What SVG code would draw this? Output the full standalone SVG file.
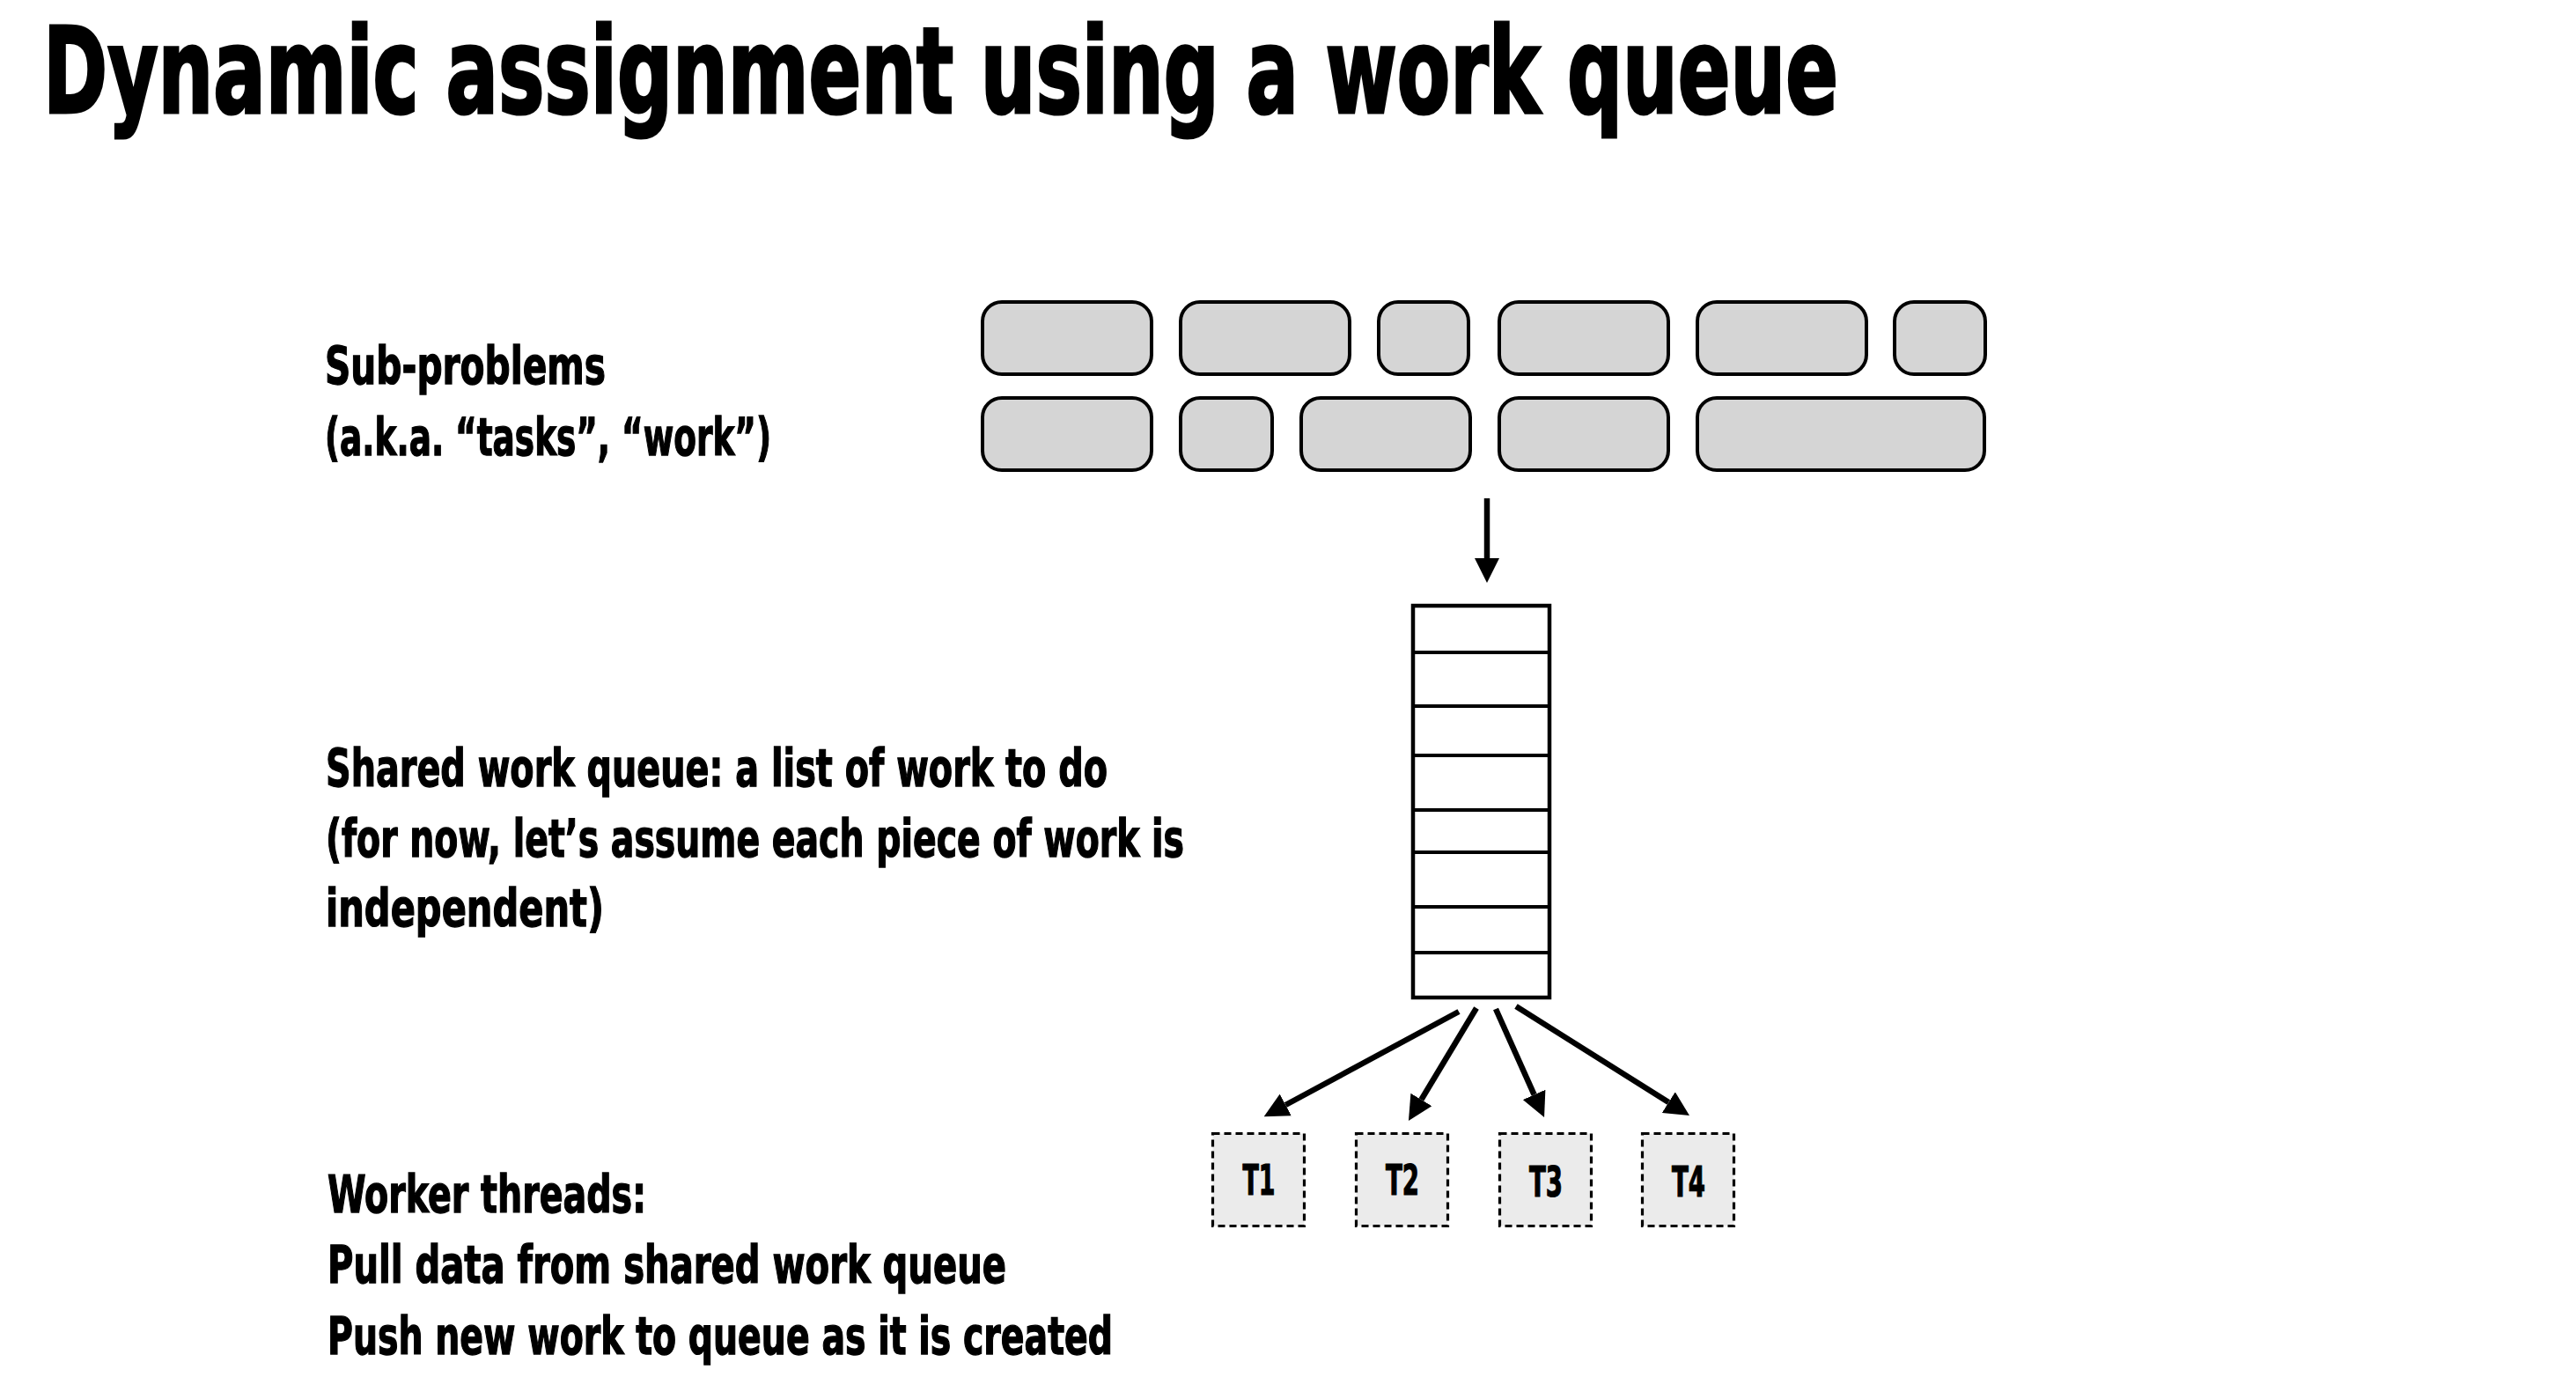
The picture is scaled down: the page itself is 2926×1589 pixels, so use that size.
<svg xmlns="http://www.w3.org/2000/svg" width="2926" height="1589" viewBox="0 0 2926 1589">
<style>
text{font-family:"Liberation Sans Narrow","DejaVu Sans Condensed","Liberation Sans",sans-serif;font-weight:bold;fill:#000;stroke:#000}
.title{font-size:136px;stroke-width:3.2}
.body{font-size:58px;stroke-width:1.3}
.tl{font-size:48px;stroke-width:1.2}
.task{fill:#d5d5d5;stroke:#000;stroke-width:4}
.q{fill:#fff;stroke:#000;stroke-width:4.5}
.qd{stroke:#000;stroke-width:4}
.thr{fill:#ebebeb;stroke:#000;stroke-width:3.2;stroke-dasharray:8 5}
.conn{stroke:#000;stroke-width:6.5;fill:none}
</style>
<defs>
<marker id="ah" markerUnits="userSpaceOnUse" markerWidth="28" markerHeight="28" refX="0" refY="14" orient="auto" viewBox="0 0 28 28">
<path d="M0,0 L28,14 L0,28 z" fill="#000"/>
</marker>
</defs>
<rect width="2926" height="1589" fill="#fff"/>
<text class="title" x="49" y="128" textLength="2039" lengthAdjust="spacingAndGlyphs">Dynamic assignment using a work queue</text>
<g id="label-subproblems">
<text class="body" x="369" y="436" textLength="319" lengthAdjust="spacingAndGlyphs">Sub-problems</text>
<text class="body" x="369" y="517" textLength="507" lengthAdjust="spacingAndGlyphs">(a.k.a. “tasks”, “work”)</text>
</g>
<g id="label-queue">
<text class="body" x="370" y="893" textLength="888" lengthAdjust="spacingAndGlyphs">Shared work queue: a list of work to do</text>
<text class="body" x="370" y="973" textLength="975" lengthAdjust="spacingAndGlyphs">(for now, let’s assume each piece of work is</text>
<text class="body" x="370" y="1052" textLength="316" lengthAdjust="spacingAndGlyphs">independent)</text>
</g>
<g id="label-workers">
<text class="body" x="372" y="1377" textLength="362" lengthAdjust="spacingAndGlyphs">Worker threads:</text>
<text class="body" x="372" y="1457" textLength="771" lengthAdjust="spacingAndGlyphs">Pull data from shared work queue</text>
<text class="body" x="372" y="1538" textLength="892" lengthAdjust="spacingAndGlyphs">Push new work to queue as it is created</text>
</g>
<g id="subproblems">
<rect class="task" x="1116" y="343" width="192" height="82" rx="22"/>
<rect class="task" x="1341" y="343" width="192" height="82" rx="22"/>
<rect class="task" x="1566" y="343" width="102" height="82" rx="22"/>
<rect class="task" x="1703" y="343" width="192" height="82" rx="22"/>
<rect class="task" x="1928" y="343" width="192" height="82" rx="22"/>
<rect class="task" x="2152" y="343" width="103" height="82" rx="22"/>
<rect class="task" x="1116" y="452" width="192" height="82" rx="22"/>
<rect class="task" x="1341" y="452" width="104" height="82" rx="22"/>
<rect class="task" x="1478" y="452" width="192" height="82" rx="22"/>
<rect class="task" x="1703" y="452" width="192" height="82" rx="22"/>
<rect class="task" x="1928" y="452" width="326" height="82" rx="22"/>
</g>
<g id="queue">
<rect class="q" x="1605" y="688" width="155" height="445"/>
<line class="qd" x1="1605" y1="741" x2="1762" y2="741"/>
<line class="qd" x1="1605" y1="802" x2="1762" y2="802"/>
<line class="qd" x1="1605" y1="858" x2="1762" y2="858"/>
<line class="qd" x1="1605" y1="920" x2="1762" y2="920"/>
<line class="qd" x1="1605" y1="968" x2="1762" y2="968"/>
<line class="qd" x1="1605" y1="1030" x2="1762" y2="1030"/>
<line class="qd" x1="1605" y1="1082" x2="1762" y2="1082"/>
</g>
<g id="T1"><rect class="thr" x="1377.5" y="1287.5" width="104" height="105"/><text class="tl" x="1430" y="1357" text-anchor="middle" textLength="37" lengthAdjust="spacingAndGlyphs">T1</text></g>
<g id="T2"><rect class="thr" x="1540.5" y="1287.5" width="104" height="105"/><text class="tl" x="1593" y="1357" text-anchor="middle" textLength="38" lengthAdjust="spacingAndGlyphs">T2</text></g>
<g id="T3"><rect class="thr" x="1703.5" y="1287.5" width="104" height="105"/><text class="tl" x="1756" y="1359" text-anchor="middle" textLength="38" lengthAdjust="spacingAndGlyphs">T3</text></g>
<g id="T4"><rect class="thr" x="1865.5" y="1287.5" width="104" height="105"/><text class="tl" x="1918" y="1359" text-anchor="middle" textLength="38" lengthAdjust="spacingAndGlyphs">T4</text></g>
<g id="connectors">
<line class="conn" x1="1689" y1="566" x2="1689" y2="634" marker-end="url(#ah)"/>
<line class="conn" x1="1657" y1="1149" x2="1460.3" y2="1255" marker-end="url(#ah)"/>
<line class="conn" x1="1677" y1="1145" x2="1614.4" y2="1249" marker-end="url(#ah)"/>
<line class="conn" x1="1699" y1="1146" x2="1742.6" y2="1243.4" marker-end="url(#ah)"/>
<line class="conn" x1="1722" y1="1143" x2="1895.3" y2="1252.1" marker-end="url(#ah)"/>
</g>
</svg>
